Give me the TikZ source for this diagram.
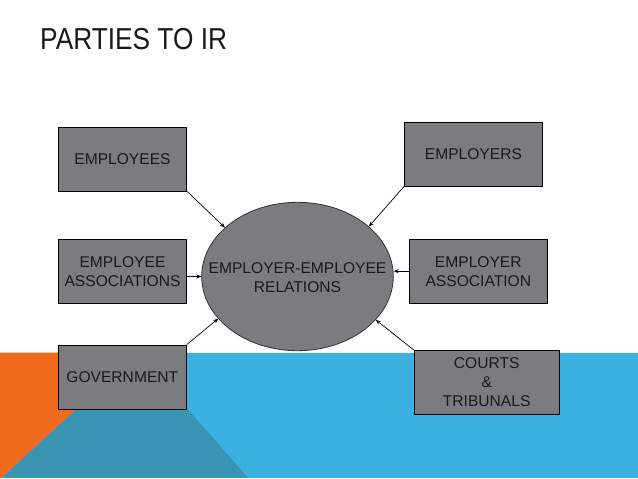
\documentclass[tikz,border=0pt]{standalone}
\usepackage{fontspec}
\setmainfont{Liberation Sans}
\usetikzlibrary{arrows.meta,shapes.geometric}
\definecolor{bgorange}{RGB}{242,106,30}
\definecolor{bgblue}{RGB}{58,177,224}
\definecolor{bgteal}{RGB}{57,148,180}
\definecolor{boxgray}{RGB}{124,124,128}
\definecolor{textdark}{RGB}{26,26,26}
\tikzset{
  party/.style={draw=black, line width=0.8pt, fill=boxgray, inner sep=0pt,
    align=center, text=textdark, font=\fontsize{15.6}{19}\selectfont},
  relation/.style={ellipse, draw=black!80, line width=0.8pt, fill=boxgray, inner sep=0pt,
    minimum width=191.6pt, minimum height=148.4pt},
  reltext/.style={inner sep=0pt, align=center, text=textdark, font=\fontsize{15.6}{19}\selectfont},
  link/.style={draw=black, line width=0.7pt, -{Stealth[length=5pt,width=4pt]}}
}
\begin{document}
\begin{tikzpicture}[x=1pt,y=-1pt]
\useasboundingbox (0,0) rectangle (638,479);
\fill[white] (0,0) rectangle (638,479);
% background shapes
\fill[bgblue] (0,352.7) rectangle (638,477.7);
\fill[bgorange] (0,352.7) -- (138,352.7) -- (2,477.7) -- (0,477.7) -- cycle;
\fill[bgteal] (2,477.7) -- (138,352.7) -- (248,477.7) -- cycle;
% title
\node[anchor=base west, inner sep=0pt, text=textdark, font=\fontsize{30.3}{34}\selectfont,
  xscale=0.867, transform shape] (title) at (40,49) {PARTIES TO IR};
% central node
\node[relation] (rel) at (297.5,276.5) {};
\node[reltext] (reltxt) at (297.5,277.5) {EMPLOYER-EMPLOYEE\\RELATIONS};
% parties
\node[party, minimum width=128.4pt, minimum height=63.7pt] (emp) at (122.5,159.2) {EMPLOYEES};
\node[party, minimum width=138.2pt, minimum height=63.9pt] (empr) at (473.4,154.3) {EMPLOYERS};
\node[party, minimum width=128.4pt, minimum height=64.3pt] (eassoc) at (122.5,271.2) {EMPLOYEE\\ASSOCIATIONS};
\node[party, minimum width=138.5pt, minimum height=64.3pt] (rassoc) at (478.3,271.2) {EMPLOYER\\ASSOCIATION};
\node[party, minimum width=128pt, minimum height=64.3pt] (gov) at (122.3,377.2) {GOVERNMENT};
\node[party, minimum width=144.7pt, minimum height=64pt] (courts) at (486.7,382.5) {COURTS\\\&\\TRIBUNALS};
% connectors
\draw[link] (emp.south east) -- (rel.146.5);
\draw[link] (empr.south west) -- (rel.35);
\draw[link] (eassoc.east |- rel.center) -- (rel.west);
\draw[link] (rassoc.west) -- (rel.east |- rassoc.west);
\draw[link] (gov.north east) -- (rel.208.5);
\draw[link] (courts.north west) -- (rel.331.7);
\end{tikzpicture}
\end{document}
